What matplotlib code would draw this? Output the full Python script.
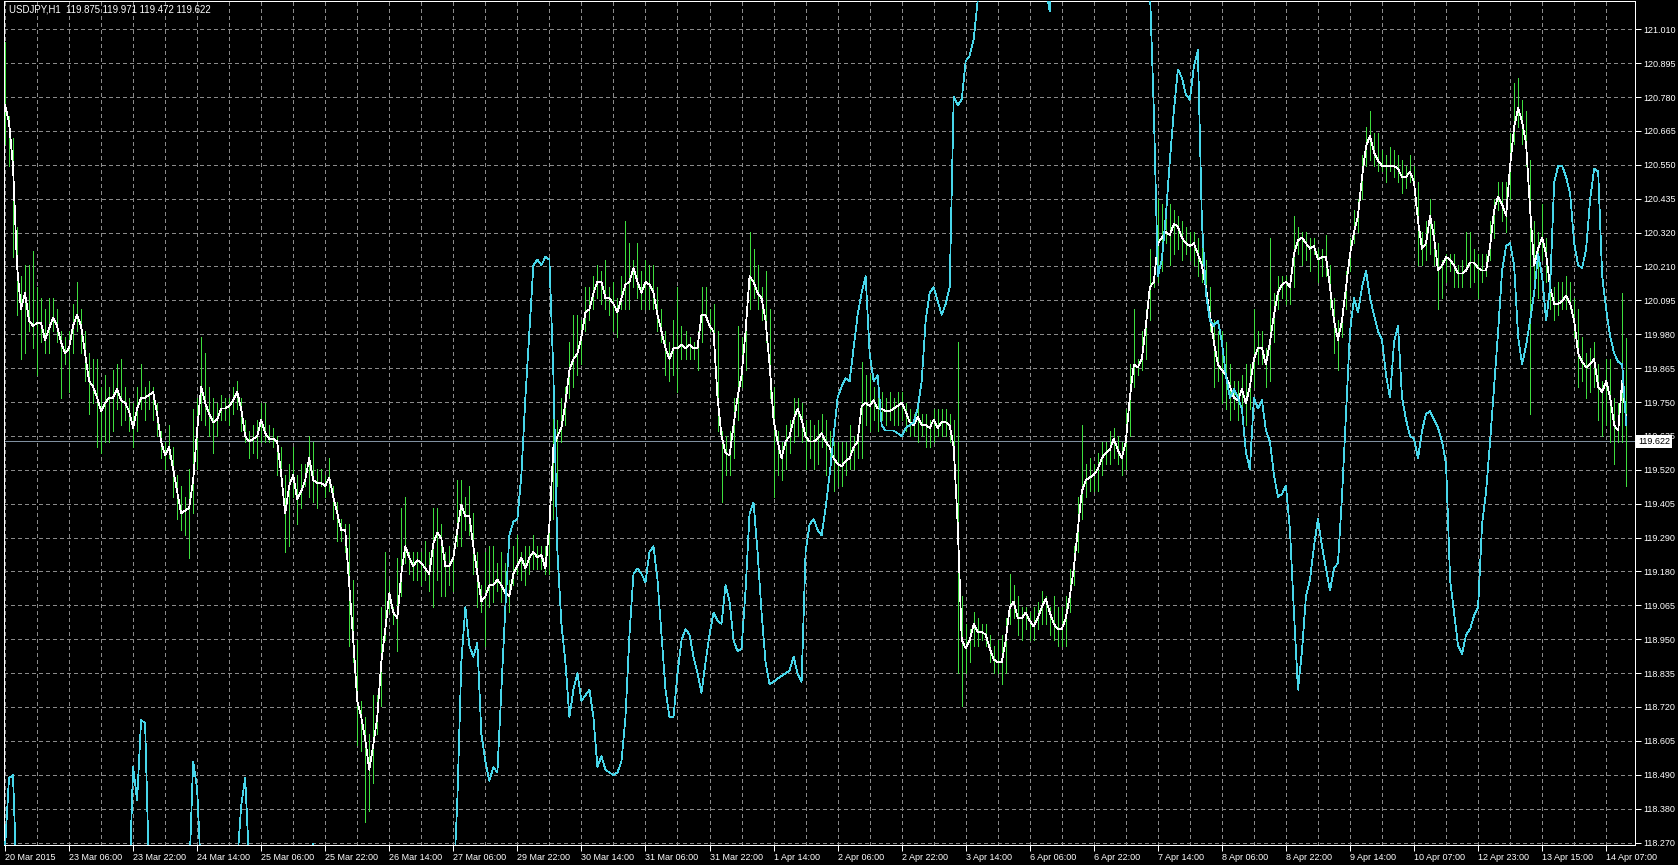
import numpy as np
import matplotlib
matplotlib.use('Agg')
import matplotlib.pyplot as plt

plt.rcParams['font.family'] = ['Liberation Sans', 'DejaVu Sans']

# USDJPY H1 bars (hourly)
symbol = 'USDJPY,H1'
last_ohlc = [119.875, 119.971, 119.472, 119.622]

high = [
    120.968, 120.717, 120.643, 120.345, 120.178, 120.215, 120.215, 120.262,
    120.141, 120.104, 120.066, 120.104, 120.104, 120.066, 119.992, 119.974,
    119.992, 120.085, 120.159, 120.066, 119.992, 119.918, 119.899, 119.899,
    119.806, 119.844, 119.806, 119.862, 119.881, 119.899, 119.806, 119.769,
    119.751, 119.806, 119.881, 119.806, 119.825, 119.806, 119.751, 119.658,
    119.621, 119.676, 119.602, 119.509, 119.472, 119.435, 119.528, 119.732,
    119.769, 119.974, 119.918, 119.806, 119.769, 119.751, 119.779, 119.769,
    119.769, 119.806, 119.825, 119.769, 119.695, 119.658, 119.676, 119.695,
    119.751, 119.751, 119.676, 119.667, 119.639, 119.602, 119.509, 119.546,
    119.602, 119.509, 119.546, 119.546, 119.639, 119.621, 119.528, 119.528,
    119.509, 119.565, 119.472, 119.416, 119.360, 119.342, 119.342, 119.156,
    118.952, 118.747, 118.692, 118.636, 118.766, 118.766, 119.063, 119.249,
    119.156, 119.063, 119.230, 119.398, 119.435, 119.249, 119.249, 119.249,
    119.249, 119.286, 119.249, 119.398, 119.398, 119.342, 119.249, 119.268,
    119.249, 119.491, 119.491, 119.435, 119.472, 119.379, 119.249, 119.137,
    119.249, 119.268, 119.268, 119.212, 119.249, 119.212, 119.156, 119.268,
    119.305, 119.249, 119.268, 119.268, 119.305, 119.268, 119.268, 119.268,
    119.398, 119.732, 119.695, 119.769, 119.806, 119.955, 120.048, 120.048,
    120.029, 120.141, 120.141, 120.178, 120.215, 120.197, 120.234, 120.141,
    120.159, 120.104, 120.178, 120.364, 120.290, 120.234, 120.290, 120.197,
    120.234, 120.215, 120.215, 120.141, 120.066, 119.992, 119.955, 120.029,
    120.141, 120.011, 119.992, 119.974, 119.955, 119.992, 120.141, 120.141,
    120.066, 120.085, 119.992, 119.658, 119.639, 119.658, 119.769, 120.011,
    119.974, 120.066, 120.327, 120.271, 120.215, 120.141, 120.197, 120.066,
    119.806, 119.658, 119.621, 119.676, 119.695, 119.769, 119.769, 119.751,
    119.695, 119.695, 119.676, 119.695, 119.714, 119.695, 119.658, 119.621,
    119.621, 119.621, 119.621, 119.676, 119.639, 119.676, 119.890, 119.844,
    119.844, 119.806, 119.788, 119.788, 119.769, 119.788, 119.769, 119.788,
    119.788, 119.751, 119.732, 119.714, 119.732, 119.714, 119.714, 119.695,
    119.732, 119.732, 119.732, 119.732, 119.714, 119.695, 119.955, 119.100,
    119.007, 118.989, 119.045, 119.026, 119.007, 119.007, 118.970, 118.933,
    118.952, 118.970, 119.026, 119.175, 119.137, 119.100, 119.063, 119.063,
    119.045, 119.063, 119.082, 119.119, 119.100, 119.063, 119.100, 119.063,
    119.063, 119.100, 119.193, 119.268, 119.435, 119.676, 119.546, 119.565,
    119.546, 119.583, 119.621, 119.621, 119.658, 119.667, 119.639, 119.621,
    119.732, 119.881, 120.066, 119.899, 119.992, 120.066, 120.271, 120.197,
    120.438, 120.420, 120.401, 120.420, 120.401, 120.382, 120.364, 120.345,
    120.327, 120.327, 120.308, 120.289, 120.234, 120.141, 120.029, 119.992,
    119.992, 119.955, 119.881, 119.825, 119.825, 119.844, 119.881, 119.881,
    120.066, 119.992, 119.992, 119.936, 120.308, 120.122, 120.178, 120.178,
    120.178, 120.159, 120.382, 120.345, 120.327, 120.327, 120.308, 120.308,
    120.271, 120.271, 120.317, 120.215, 120.104, 120.029, 120.066, 120.197,
    120.308, 120.401, 120.438, 120.587, 120.680, 120.735, 120.661, 120.661,
    120.605, 120.587, 120.615, 120.605, 120.587, 120.568, 120.550, 120.587,
    120.550, 120.494, 120.327, 120.364, 120.438, 120.364, 120.290, 120.234,
    120.252, 120.252, 120.252, 120.215, 120.234, 120.327, 120.327, 120.271,
    120.252, 120.252, 120.252, 120.364, 120.438, 120.494, 120.494, 120.494,
    120.661, 120.828, 120.847, 120.773, 120.735, 120.568, 120.364, 120.327,
    120.420, 120.308, 120.215, 120.141, 120.159, 120.159, 120.178, 120.159,
    120.104, 120.066, 119.974, 119.918, 119.936, 119.955, 119.881, 119.825,
    119.899, 119.899, 119.769, 119.751, 120.122, 119.971,
]

low = [
    120.624, 120.550, 120.243, 120.048, 119.899, 119.918, 119.992, 119.936,
    119.844, 119.955, 119.918, 119.918, 119.992, 119.955, 119.769, 119.881,
    119.788, 119.918, 119.992, 119.918, 119.825, 119.714, 119.751, 119.602,
    119.583, 119.621, 119.621, 119.658, 119.732, 119.676, 119.695, 119.658,
    119.602, 119.658, 119.732, 119.695, 119.732, 119.695, 119.639, 119.565,
    119.528, 119.565, 119.435, 119.360, 119.323, 119.305, 119.230, 119.379,
    119.528, 119.695, 119.676, 119.639, 119.583, 119.639, 119.695, 119.695,
    119.676, 119.714, 119.732, 119.658, 119.621, 119.565, 119.583, 119.565,
    119.621, 119.621, 119.621, 119.602, 119.509, 119.472, 119.249, 119.268,
    119.435, 119.342, 119.398, 119.472, 119.435, 119.416, 119.398, 119.472,
    119.435, 119.453, 119.360, 119.286, 119.286, 119.249, 118.933, 118.877,
    118.599, 118.580, 118.339, 118.376, 118.469, 118.636, 118.729, 118.952,
    119.045, 119.007, 118.914, 119.100, 119.212, 119.175, 119.156, 119.156,
    119.137, 119.156, 119.119, 119.063, 119.156, 119.100, 119.100, 119.137,
    119.119, 119.268, 119.268, 119.323, 119.305, 119.175, 119.063, 119.045,
    118.933, 119.063, 119.082, 119.119, 119.082, 119.063, 119.045, 119.137,
    119.175, 119.156, 119.137, 119.175, 119.193, 119.193, 119.193, 119.175,
    119.175, 119.360, 119.472, 119.621, 119.676, 119.769, 119.806, 119.844,
    119.881, 119.992, 120.029, 120.066, 120.104, 120.085, 120.066, 120.048,
    119.992, 119.974, 120.066, 120.066, 120.066, 120.141, 120.104, 120.066,
    120.066, 120.066, 120.066, 119.992, 119.955, 119.844, 119.825, 119.844,
    119.788, 119.899, 119.899, 119.899, 119.899, 119.862, 119.955, 120.029,
    119.992, 119.974, 119.658, 119.416, 119.509, 119.509, 119.565, 119.695,
    119.806, 119.862, 120.066, 120.104, 120.066, 120.029, 119.955, 119.769,
    119.435, 119.509, 119.491, 119.528, 119.583, 119.621, 119.639, 119.621,
    119.528, 119.565, 119.528, 119.546, 119.602, 119.509, 119.565, 119.453,
    119.472, 119.472, 119.509, 119.528, 119.528, 119.565, 119.565, 119.676,
    119.658, 119.695, 119.658, 119.695, 119.676, 119.695, 119.676, 119.676,
    119.695, 119.658, 119.639, 119.639, 119.621, 119.639, 119.602, 119.602,
    119.621, 119.639, 119.639, 119.639, 119.621, 119.509, 118.840, 118.729,
    118.840, 118.877, 118.933, 118.933, 118.952, 118.933, 118.877, 118.840,
    118.840, 118.803, 118.840, 119.007, 119.026, 118.970, 118.952, 118.989,
    118.952, 118.952, 118.989, 119.007, 119.007, 118.970, 118.952, 118.933,
    118.933, 118.933, 119.045, 119.137, 119.249, 119.360, 119.435, 119.453,
    119.453, 119.453, 119.509, 119.546, 119.546, 119.565, 119.546, 119.509,
    119.528, 119.639, 119.806, 119.844, 119.862, 119.899, 120.029, 120.141,
    120.159, 120.197, 120.290, 120.215, 120.252, 120.271, 120.234, 120.252,
    120.234, 120.215, 120.178, 120.159, 120.104, 119.992, 119.806, 119.825,
    119.751, 119.732, 119.695, 119.732, 119.695, 119.714, 119.676, 119.732,
    119.806, 119.881, 119.881, 119.806, 119.825, 119.955, 120.066, 120.104,
    120.085, 120.085, 120.141, 120.252, 120.215, 120.234, 120.197, 120.252,
    120.159, 120.178, 120.178, 120.066, 119.918, 119.862, 119.974, 120.066,
    120.197, 120.290, 120.327, 120.438, 120.550, 120.568, 120.550, 120.531,
    120.531, 120.494, 120.531, 120.512, 120.494, 120.457, 120.475, 120.494,
    120.457, 120.215, 120.215, 120.234, 120.252, 120.215, 120.066, 120.104,
    120.159, 120.197, 120.141, 120.141, 120.141, 120.197, 120.141, 120.159,
    120.104, 120.159, 120.178, 120.234, 120.308, 120.401, 120.364, 120.327,
    120.438, 120.624, 120.680, 120.624, 120.550, 119.714, 120.141, 120.104,
    120.234, 120.159, 120.066, 120.029, 120.048, 120.066, 120.066, 120.066,
    119.974, 119.806, 119.825, 119.769, 119.788, 119.806, 119.695, 119.639,
    119.676, 119.621, 119.546, 119.621, 119.621, 119.472,
]

# white moving average
ma = [
    120.754, 120.698, 120.550, 120.215, 120.066, 120.122, 120.029, 120.011,
    120.020, 120.020, 119.964, 120.001, 120.039, 120.011, 119.955, 119.918,
    119.936, 120.011, 120.048, 120.011, 119.918, 119.825, 119.806, 119.769,
    119.723, 119.751, 119.769, 119.769, 119.797, 119.760, 119.751, 119.723,
    119.667, 119.732, 119.769, 119.769, 119.778, 119.788, 119.714, 119.621,
    119.574, 119.602, 119.528, 119.453, 119.379, 119.388, 119.398, 119.491,
    119.658, 119.806, 119.751, 119.714, 119.686, 119.695, 119.732, 119.732,
    119.741, 119.760, 119.788, 119.732, 119.639, 119.621, 119.630, 119.639,
    119.695, 119.649, 119.630, 119.630, 119.621, 119.509, 119.379, 119.472,
    119.509, 119.426, 119.453, 119.491, 119.565, 119.491, 119.481, 119.481,
    119.472, 119.500, 119.435, 119.379, 119.323, 119.323, 119.137, 118.952,
    118.747, 118.692, 118.617, 118.515, 118.599, 118.692, 118.877, 118.989,
    119.110, 119.045, 119.026, 119.175, 119.268, 119.230, 119.202, 119.221,
    119.212, 119.193, 119.175, 119.277, 119.314, 119.295, 119.202, 119.202,
    119.230, 119.323, 119.407, 119.370, 119.370, 119.268, 119.175, 119.082,
    119.100, 119.137, 119.137, 119.156, 119.137, 119.110, 119.100, 119.175,
    119.202, 119.230, 119.193, 119.230, 119.249, 119.230, 119.240, 119.193,
    119.342, 119.602, 119.639, 119.667, 119.751, 119.862, 119.899, 119.918,
    119.974, 120.057, 120.066, 120.122, 120.159, 120.159, 120.104, 120.104,
    120.085, 120.057, 120.104, 120.150, 120.159, 120.206, 120.159, 120.122,
    120.159, 120.150, 120.122, 120.048, 119.992, 119.936, 119.899, 119.936,
    119.936, 119.946, 119.936, 119.946, 119.936, 119.936, 120.048, 120.048,
    120.011, 119.992, 119.769, 119.639, 119.583, 119.574, 119.676, 119.769,
    119.844, 119.992, 120.178, 120.159, 120.122, 120.104, 120.029, 119.881,
    119.695, 119.621, 119.565, 119.621, 119.639, 119.695, 119.732, 119.695,
    119.639, 119.621, 119.621, 119.630, 119.649, 119.621, 119.602, 119.565,
    119.546, 119.537, 119.556, 119.565, 119.602, 119.621, 119.741, 119.751,
    119.741, 119.760, 119.732, 119.732, 119.723, 119.723, 119.732, 119.741,
    119.751, 119.723, 119.686, 119.676, 119.704, 119.676, 119.676, 119.667,
    119.695, 119.667, 119.686, 119.686, 119.676, 119.602, 119.342, 118.952,
    118.924, 118.952, 119.007, 118.980, 118.980, 118.970, 118.924, 118.887,
    118.877, 118.877, 118.952, 119.063, 119.082, 119.026, 119.026, 119.045,
    119.017, 118.998, 119.026, 119.063, 119.091, 119.045, 119.007, 118.989,
    118.989, 119.026, 119.100, 119.193, 119.323, 119.453, 119.491, 119.500,
    119.509, 119.528, 119.565, 119.583, 119.593, 119.630, 119.593, 119.565,
    119.621, 119.769, 119.881, 119.871, 119.899, 120.011, 120.141, 120.159,
    120.289, 120.308, 120.327, 120.317, 120.354, 120.345, 120.308, 120.289,
    120.280, 120.289, 120.252, 120.215, 120.141, 120.048, 119.955, 119.881,
    119.862, 119.844, 119.806, 119.769, 119.760, 119.797, 119.751, 119.806,
    119.899, 119.936, 119.936, 119.881, 119.955, 120.048, 120.122, 120.150,
    120.159, 120.141, 120.252, 120.299, 120.308, 120.289, 120.271, 120.280,
    120.234, 120.243, 120.243, 120.141, 120.029, 119.964, 120.029, 120.141,
    120.252, 120.327, 120.382, 120.512, 120.615, 120.652, 120.596, 120.568,
    120.550, 120.550, 120.550, 120.550, 120.540, 120.512, 120.512, 120.531,
    120.494, 120.364, 120.271, 120.289, 120.382, 120.308, 120.197, 120.215,
    120.243, 120.234, 120.215, 120.187, 120.187, 120.197, 120.224, 120.224,
    120.206, 120.197, 120.197, 120.280, 120.401, 120.447, 120.420, 120.382,
    120.550, 120.680, 120.745, 120.698, 120.624, 120.401, 120.215, 120.271,
    120.308, 120.252, 120.141, 120.085, 120.085, 120.094, 120.113, 120.085,
    120.029, 119.918, 119.890, 119.871, 119.881, 119.899, 119.806, 119.788,
    119.825, 119.769, 119.676, 119.658, 119.825, 119.695,
]

# cyan indicator (drawn on the price scale, often runs off the chart)
cyan = [
    118.250, 118.487, 118.497, 118.100, 118.100, 118.100, 118.100, 118.100,
    118.100, 118.100, 118.100, 118.100, 118.100, 118.100, 118.100, 118.100,
    118.100, 118.100, 118.100, 118.100, 118.100, 118.100, 118.100, 118.100,
    118.100, 118.100, 118.100, 118.100, 118.100, 118.100, 118.100, 118.100,
    118.524, 118.413, 118.682, 118.673, 118.150, 118.100, 118.100, 118.100,
    118.100, 118.100, 118.100, 118.100, 118.100, 118.100, 118.150, 118.543,
    118.450, 118.150, 118.100, 118.100, 118.100, 118.100, 118.100, 118.100,
    118.100, 118.100, 118.200, 118.394, 118.487, 118.200, 118.100, 118.100,
    118.100, 118.100, 118.100, 118.100, 118.100, 118.100, 118.100, 118.100,
    118.100, 118.100, 118.100, 118.100, 118.100, 118.265, 118.100, 118.100,
    118.100, 118.100, 118.100, 118.100, 118.100, 118.100, 118.100, 118.100,
    118.100, 118.100, 118.100, 118.100, 118.100, 118.100, 118.100, 118.100,
    118.100, 118.100, 118.100, 118.100, 118.100, 118.100, 118.100, 118.100,
    118.100, 118.100, 118.100, 118.100, 118.100, 118.100, 118.100, 118.100,
    118.100, 118.413, 118.877, 119.063, 118.933, 118.896, 118.942, 118.636,
    118.543, 118.478, 118.524, 118.506, 118.785, 119.063, 119.305, 119.351,
    119.360, 119.509, 119.769, 119.992, 120.215, 120.234, 120.215, 120.243,
    120.234, 119.844, 119.249, 119.007, 118.877, 118.692, 118.785, 118.840,
    118.747, 118.766, 118.785, 118.692, 118.524, 118.561, 118.515, 118.506,
    118.497, 118.506, 118.543, 118.692, 118.970, 119.175, 119.193, 119.175,
    119.147, 119.249, 119.268, 119.156, 118.970, 118.785, 118.692, 118.692,
    118.840, 118.952, 118.989, 118.970, 118.896, 118.840, 118.775, 118.877,
    118.970, 119.045, 119.017, 119.007, 119.137, 119.082, 118.952, 118.914,
    118.924, 119.119, 119.379, 119.416, 119.249, 119.045, 118.877, 118.803,
    118.812, 118.822, 118.831, 118.840, 118.850, 118.896, 118.840, 118.812,
    119.249, 119.342, 119.360, 119.323, 119.305, 119.398, 119.509, 119.639,
    119.769, 119.806, 119.834, 119.825, 119.936, 120.048, 120.122, 120.178,
    119.918, 119.825, 119.844, 119.676, 119.658, 119.658, 119.658, 119.649,
    119.639, 119.667, 119.676, 119.686, 119.732, 119.825, 120.029, 120.122,
    120.141, 120.094, 120.048, 120.085, 120.141, 120.782, 120.754, 120.773,
    120.903, 120.921, 120.977, 121.107, 121.300, 121.300, 121.300, 121.300,
    121.300, 121.300, 121.300, 121.300, 121.300, 121.300, 121.300, 121.300,
    121.300, 121.300, 121.300, 121.300, 121.150, 121.070, 121.300, 121.300,
    121.300, 121.300, 121.300, 121.300, 121.300, 121.300, 121.300, 121.300,
    121.300, 121.300, 121.300, 121.300, 121.300, 121.300, 121.300, 121.300,
    121.300, 121.300, 121.300, 121.300, 121.300, 121.300, 121.150, 120.735,
    120.178, 120.234, 120.382, 120.568, 120.735, 120.875, 120.847, 120.791,
    120.773, 120.884, 120.940, 120.364, 120.122, 120.029, 120.011, 120.029,
    119.955, 119.844, 119.769, 119.797, 119.769, 119.732, 119.583, 119.528,
    119.769, 119.732, 119.760, 119.658, 119.621, 119.509, 119.435, 119.444,
    119.472, 119.323, 119.045, 118.785, 118.914, 119.100, 119.156, 119.268,
    119.360, 119.268, 119.193, 119.119, 119.193, 119.212, 119.435, 119.714,
    119.992, 120.104, 120.057, 120.141, 120.197, 120.104, 120.048, 119.992,
    119.964, 119.844, 119.769, 119.955, 120.011, 119.769, 119.695, 119.639,
    119.630, 119.565, 119.658, 119.714, 119.723, 119.695, 119.667, 119.621,
    119.546, 119.156, 119.045, 118.933, 118.905, 118.970, 118.989, 119.035,
    119.063, 119.342, 119.453, 119.621, 119.806, 119.992, 120.197, 120.280,
    120.289, 120.215, 119.974, 119.881, 119.946, 120.029, 120.122, 120.252,
    120.178, 120.029, 120.141, 120.494, 120.550, 120.550, 120.512, 120.457,
    120.289, 120.215, 120.206, 120.271, 120.438, 120.540, 120.531, 120.178,
    120.066, 119.974, 119.918, 119.890, 119.881, 119.676,
]

time_labels = [
    '20 Mar 2015', '23 Mar 06:00', '23 Mar 22:00', '24 Mar 14:00', '25 Mar 06:00',
    '25 Mar 22:00', '26 Mar 14:00', '27 Mar 06:00', '29 Mar 22:00', '30 Mar 14:00',
    '31 Mar 06:00', '31 Mar 22:00', '1 Apr 14:00', '2 Apr 06:00', '2 Apr 22:00',
    '3 Apr 14:00', '6 Apr 06:00', '6 Apr 22:00', '7 Apr 14:00', '8 Apr 06:00',
    '8 Apr 22:00', '9 Apr 14:00', '10 Apr 07:00', '12 Apr 23:00', '13 Apr 15:00',
    '14 Apr 07:00',
]
price_labels = [
    '121.010', '120.895', '120.780', '120.665', '120.550', '120.435', '120.320',
    '120.210', '120.095', '119.980', '119.865', '119.750', '119.635', '119.520',
    '119.405', '119.290', '119.180', '119.065', '118.950', '118.835', '118.720',
    '118.605', '118.490', '118.380', '118.270',
]

bar_color = '#3ede3e'
cyan_color = '#48d6ea'
grid_color = '#8a8a8a'
px = 0.72  # one pixel at 100 dpi, in points
thin = 0.55

n = len(high)
idx = np.arange(n)
price_ticks = np.linspace(121.010, 118.270, len(price_labels))

fig = plt.figure(figsize=(16.78, 8.65), dpi=100, facecolor='black')
ax = fig.add_axes([4 / 1678, 20 / 865, 1631 / 1678, 844 / 865], facecolor='black')
ax.set_xlim(-0.25, 407.2)
ax.set_ylim(118.2616, 121.1054)

# dashed grid: every price tick, every 8 bars
for v in price_ticks:
    ax.axhline(v, color=grid_color, lw=px, ls=(0, (3, 3)), antialiased=False, zorder=0)
for b in range(0, 408, 8):
    ax.axvline(b, color=grid_color, lw=px, ls=(0, (3, 3)), antialiased=False, zorder=0)

ax.axhline(last_ohlc[3], color='#8090a0', lw=px, antialiased=False, zorder=1)

ax.vlines(idx, low, high, colors=bar_color, lw=px, antialiased=False, zorder=2)
ax.plot(idx, ma, color='white', lw=thin, antialiased=False, zorder=3)
ax.plot(idx, cyan, color=cyan_color, lw=thin, antialiased=False, zorder=4)

for s in ax.spines.values():
    s.set_color('white')
    s.set_linewidth(px)

ax.set_xticks(np.arange(0, 16 * len(time_labels), 16))
ax.set_xticklabels(time_labels)
for t in ax.get_xticklabels():
    t.set_ha('left')
ax.tick_params(axis='x', colors='white', length=4, width=px, pad=2, labelsize=6.5)

ax.yaxis.tick_right()
ax.set_yticks(price_ticks)
ax.set_yticklabels(price_labels)
ax.tick_params(axis='y', colors='white', length=4, width=px, pad=2, labelsize=6.5)

ax.annotate(f'{last_ohlc[3]:.3f}', xy=(1, last_ohlc[3]), xycoords=ax.get_yaxis_transform(),
            xytext=(3, 0), textcoords='offset pixels', ha='left', va='center',
            fontsize=6.5, color='black', annotation_clip=False, zorder=10,
            bbox=dict(boxstyle='square,pad=0.2', fc='white', ec='none'))

header = symbol + '  ' + ' '.join(f'{v:.3f}' for v in last_ohlc)
fig.text(9 / 1678, 1 - 10 / 865, header, color='white', fontsize=6.9, ha='left', va='center')

fig.savefig('out.png', dpi=100, facecolor='black')
